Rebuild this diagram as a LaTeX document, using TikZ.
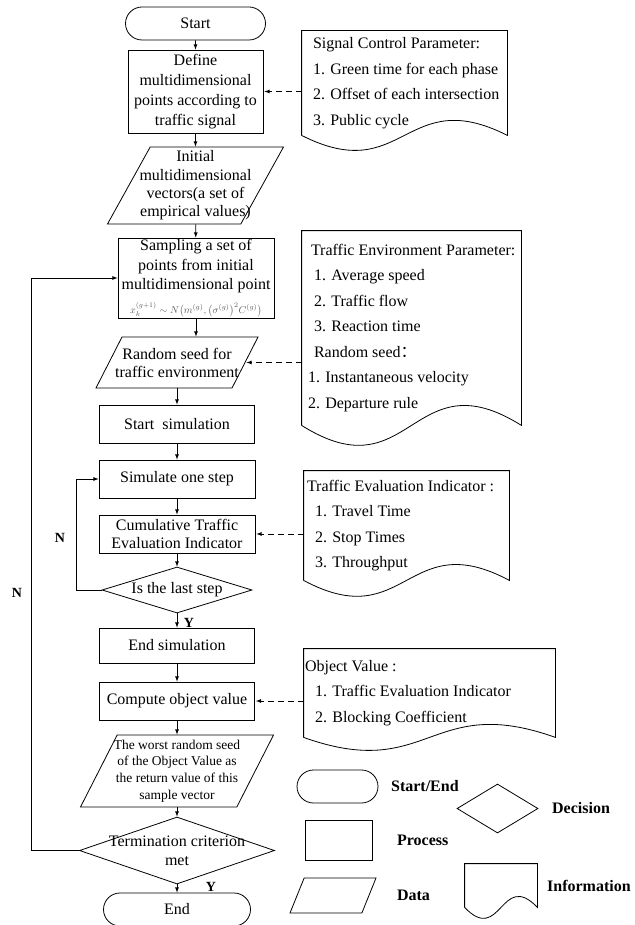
\documentclass[tikz,border=0pt]{standalone}
\usepackage{fontspec}
\setmainfont{Liberation Serif}
\newfontfamily\cjk{Noto Sans CJK SC}
\usetikzlibrary{shapes.geometric}
\usetikzlibrary{shapes.misc}
\usetikzlibrary{arrows}
\usetikzlibrary{calc}
\usetikzlibrary{positioning}
% outline of an information sheet round a node, with a wavy lower edge
\newcommand{\wavybottom}[2]{%
  \draw[-] (#1.south west) -- (#1.north west) -- (#1.north east) -- (#1.south east)
    .. controls ($(#1.south)+(0,-#2)$) and ($(#1.south)+(0,#2)$) .. (#1.south west);}

\begin{document}
\begin{tikzpicture}[x=1pt,y=-1pt,->,>=latex,line width=0.8pt,
    font=\fontsize{16}{20}\selectfont,
    term node/.style={rounded rectangle,draw,inner sep=0pt},
    proc node/.style={rectangle,draw,align=center,inner sep=0pt},
    data node/.style={trapezium,draw,trapezium stretches body,inner sep=0pt},
    dec node/.style={diamond,draw,inner sep=0pt},
    info node/.style={rectangle,inner sep=0pt},
    info text/.style={align=left,anchor=west,inner sep=0pt,font=\fontsize{16}{25.5}\selectfont},
    yn label/.style={font=\fontsize{14}{16}\selectfont\bfseries},
    key label/.style={font=\fontsize{16}{18}\selectfont\bfseries},
    hint/.style={dashed,dash pattern=on 6pt off 4pt,shorten >=1pt}]
  \useasboundingbox (0,0) rectangle (634,925);

  % main column
  \node[term node,minimum width=140pt,minimum height=33pt] (start) at (195.5,23.5) {Start};
  \node[proc node,minimum width=135pt,minimum height=83pt] (def) at (195.5,91.5)
    {Define\\multidimensional\\points according to\\traffic signal};
  \node[data node,trapezium left angle=61,trapezium right angle=119,minimum width=176pt,
    label={[align=center,font=\fontsize{16}{18.3}\selectfont]center:{Initial\\multidimensional\\vectors(a set of\\empirical values)}}] (init) at (195.5,185.5) {\rule{0pt}{77pt}};
  \node[proc node,minimum width=156pt,minimum height=80pt,font=\fontsize{16}{19.5}\selectfont] (samp) at (196,278)
    {Sampling a set of\\points from initial\\multidimensional point\\[4pt]{\fontsize{10}{12}\selectfont\color{black!65}$x_k^{(g+1)}\sim N\bigl(m^{(g)},\bigl(\sigma^{(g)}\bigr)^2C^{(g)}\bigr)$}};
  \node[data node,trapezium left angle=63,trapezium right angle=117,minimum width=162pt,
    label={[align=center,font=\fontsize{16}{18}\selectfont]center:{Random seed for\\traffic environment}}] (seed) at (177,362.5) {\rule{0pt}{51pt}};
  \node[proc node,minimum width=155pt,minimum height=38pt] (ssim) at (177,424) {Start~ simulation};
  \node[proc node,minimum width=156pt,minimum height=38pt] (onestep) at (177,479) {Simulate one step};
  \node[proc node,minimum width=156pt,minimum height=38pt,font=\fontsize{16}{18}\selectfont] (cum) at (177,534)
    {Cumulative Traffic\\Evaluation Indicator};
  \node[dec node,minimum width=150pt,minimum height=46pt,label=center:{Is the last step}] (last) at (177,590) {};
  \node[proc node,minimum width=155pt,minimum height=35pt] (esim) at (177,645.5) {End simulation};
  \node[proc node,minimum width=155pt,minimum height=38pt] (comp) at (177,701) {Compute object value};
  \node[data node,trapezium left angle=63,trapezium right angle=117,minimum width=193pt,
    label={[align=center,font=\fontsize{13.5}{16.7}\selectfont]center:{The worst random seed\\of the Object Value as\\the return value of this\\sample vector}}] (worst) at (177,771) {\rule{0pt}{72pt}};
  \node[dec node,minimum width=195pt,minimum height=67pt,
    label={[align=center,font=\fontsize{16}{19}\selectfont]center:{Termination criterion\\met}}] (term) at (177,850.5) {};
  \node[term node,minimum width=147pt,minimum height=33pt] (end) at (177,909.5) {End};

  \path (start) edge (def);
  \path (def) edge (init);
  \path (init) edge (samp);
  \draw (samp.south) -- (samp.south |- seed.north);
  \path (seed) edge (ssim);
  \path (ssim) edge (onestep);
  \path (onestep) edge (cum);
  \path (cum) edge (last);
  \path (last) edge (esim);
  \path (esim) edge (comp);
  \path (comp) edge (worst);
  \path (worst) edge (term);
  \path (term) edge (end);
  \draw (last.west) -- ++(-25,0) |- (onestep.west);
  \draw (term.west) -- ++(-48,0) |- (samp.west);
  \node[yn label] (nin) at (60,538) {N};
  \node[yn label] (nout) at (17,593) {N};
  \node[yn label] (yin) at (189,623) {Y};
  \node[yn label] (yout) at (211,887) {Y};

  % information sheets
  \node[info node,minimum width=205pt,minimum height=104pt] (sig) at (404.5,83) {};
  \node[info text] (sigtxt) at (sig.west)
    {\hspace*{11pt}Signal Control Parameter:\\
     \hspace*{11pt}1. Green time for each phase\\
     \hspace*{11pt}2. Offset of each intersection\\
     \hspace*{11pt}3. Public cycle};
  \wavybottom{sig}{52}
  \node[info node,minimum width=219pt,minimum height=194pt] (env) at (411.5,328) {};
  \node[info text] (envtxt) at (env.west)
    {\hspace*{9pt}Traffic Environment Parameter:\\
     \hspace*{12pt}1. Average speed\\
     \hspace*{12pt}2. Traffic flow\\
     \hspace*{12pt}3. Reaction time\\
     \hspace*{12pt}Random seed{\cjk ：}\\
     \hspace*{6pt}1. Instantaneous velocity\\
     \hspace*{6pt}2. Departure rule};
  \wavybottom{env}{69}
  \node[info node,minimum width=205pt,minimum height=109pt] (eval) at (406.5,525.5) {};
  \node[info text] (evaltxt) at (eval.west)
    {\hspace*{3pt}Traffic Evaluation Indicator :\\
     \hspace*{11pt}1. Travel Time\\
     \hspace*{11pt}2. Stop Times\\
     \hspace*{11pt}3. Throughput};
  \wavybottom{eval}{55}
  \node[info node,minimum width=251pt,minimum height=88pt] (obj) at (429.5,693) {};
  \node[info text] (objtxt) at (obj.west)
    {\hspace*{1pt}Object Value :\\
     \hspace*{11pt}1. Traffic Evaluation Indicator\\
     \hspace*{11pt}2. Blocking Coefficient};
  \wavybottom{obj}{45}

  \draw[hint] (def.east -| sig.west) -- (def.east);
  \draw[hint] (seed.east -| env.west) -- (seed.east);
  \draw[hint] (cum.east -| eval.west) -- (cum.east);
  \draw[hint] (comp.east -| obj.west) -- (comp.east);

  % key
  \node[term node,minimum width=81pt,minimum height=33pt] (kse) at (337.5,786.5) {};
  \node[key label,right=9pt of kse] (kselbl) {Start/End};
  \node[dec node,minimum width=81pt,minimum height=49pt] (kdec) at (497.5,808.5) {};
  \node[key label,right=10pt of kdec] (kdeclbl) {Decision};
  \node[proc node,minimum width=67pt,minimum height=40pt] (kpro) at (338.5,840) {};
  \node[key label,right=21pt of kpro] (kprolbl) {Process};
  \node[data node,trapezium left angle=68,trapezium right angle=112,minimum width=86pt] (kdat) at (333,895.5) {\rule{0pt}{35pt}};
  \node[key label,right=24pt of kdat] (kdatlbl) {Data};
  \node[info node,minimum width=72pt,minimum height=43pt] (kinf) at (501,885.5) {};
  \wavybottom{kinf}{38}
  \node[key label,right=6pt of kinf] (kinflbl) {Information};
\end{tikzpicture}
\end{document}
